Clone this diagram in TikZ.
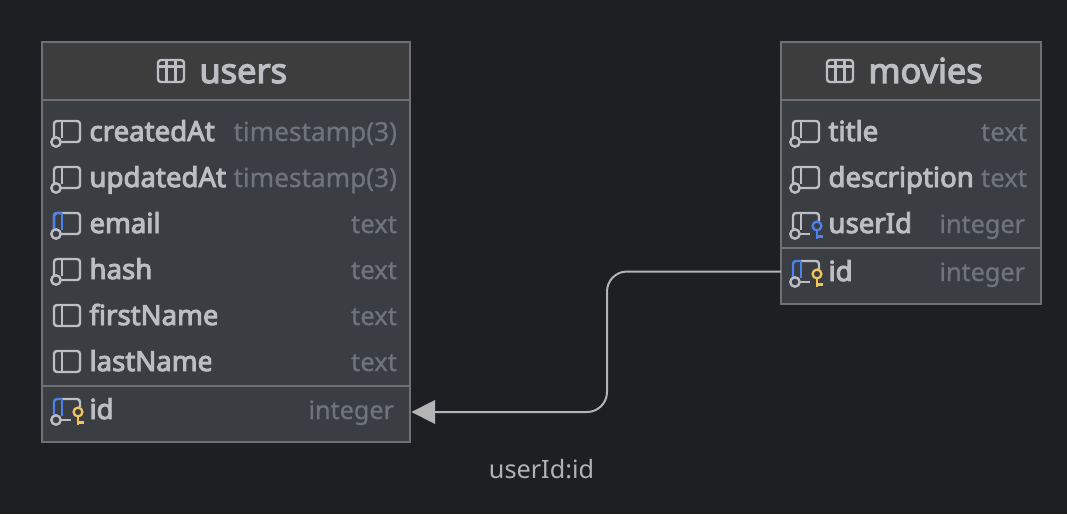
\documentclass[tikz,border=0pt]{standalone}
\usepackage{fontspec}
\setmainfont{Noto Sans}
\newfontfamily\mfont[FakeBold=3.5]{Noto Sans}
\newfontfamily\lfont[FakeBold=0.8]{Noto Sans}
\usetikzlibrary{arrows.meta}
\definecolor{bg}{HTML}{1E1F22}
\definecolor{bodyc}{HTML}{3A3D41}
\definecolor{headc}{HTML}{3D3D3D}
\definecolor{edgec}{HTML}{6F7073}
\definecolor{txt}{HTML}{BCBEC4}
\definecolor{muted}{HTML}{6F737A}
\definecolor{blueic}{HTML}{4C82EE}
\definecolor{goldic}{HTML}{F2C55C}
\definecolor{linec}{HTML}{B4B4B4}
\definecolor{labelc}{HTML}{B0B2B6}
\tikzset{
  x=1pt,y=-1pt,
  tablebox/.style={draw=edgec,line width=1.5pt,fill=bodyc},
  headbox/.style={fill=headc},
  sepline/.style={draw=edgec,line width=2pt},
  icon/.style={draw=txt,line width=2.4pt,line join=round},
  fname/.style={anchor=base west,inner sep=0pt,outer sep=0pt,text=txt,font=\mfont\fontsize{27.6}{28}\selectfont},
  ftype/.style={anchor=base east,inner sep=0pt,outer sep=0pt,text=muted,font=\lfont\fontsize{25.6}{26}\selectfont},
  ftypewide/.style={ftype,font=\lfont\fontsize{26.2}{26}\selectfont},
  ftypeint/.style={ftype,font=\lfont\fontsize{25.2}{26}\selectfont},
  ttl/.style={anchor=base west,inner sep=0pt,outer sep=0pt,text=txt,font=\mfont\fontsize{34.3}{34}\selectfont},
  rel/.style={draw=linec,line width=2pt,rounded corners=20pt},
  pics/tableicon/.style={code={
    \draw[icon,rounded corners=3pt] (0,-11) rectangle (26,11);
    \draw[icon] (0,-4.5)--(26,-4.5) (8.5,-11)--(8.5,11) (17.5,-11)--(17.5,11);
  }},
  pics/plainbase/.style={code={
    \draw[icon,rounded corners=3pt] (54,-11) rectangle (80,10);
    \draw[icon] (62,-11)--(62,10);
  }},
  pics/nullbase/.style={code={
    \draw[icon,rounded corners=3pt] (54,5)--(54,-11)--(80,-11)--(80,10)--(61,10);
    \draw[icon] (62,-11)--(62,6);
    \draw[icon] (56,10) circle (4.7);
  }},
  pics/pkbase/.style={code={
    \draw[icon,rounded corners=3pt] (54,5)--(54,-11)--(80,-11)--(80,10)--(61,10);
    \draw[icon,draw=blueic,rounded corners=3pt] (54,5)--(54,-11)--(62,-11);
    \draw[icon,draw=blueic] (62,-11)--(62,6);
    \draw[icon] (56,10) circle (4.7);
  }},
  pics/keybase/.style={code={
    \draw[icon,rounded corners=3pt] (54,5)--(54,-11)--(80,-11)--(80,-3);
    \draw[icon] (61,10)--(71,10) (62,-11)--(62,6);
    \draw[icon] (56,10) circle (4.7);
  }},
  pics/pkkeybase/.style={code={
    \draw[icon,rounded corners=3pt] (62,-11)--(80,-11)--(80,-3);
    \draw[icon] (61,10)--(71,10);
    \draw[icon,draw=blueic,rounded corners=3pt] (54,5)--(54,-11)--(62,-11);
    \draw[icon,draw=blueic] (62,-11)--(62,6);
    \draw[icon] (56,10) circle (4.7);
  }},
  pics/keyglyph/.style={code={
    \draw[line width=2.3pt,draw=#1] (78,2) circle (4.4);
    \draw[line width=2.5pt,draw=#1] (78,6.5)--(78,15) (78,12.5)--(83.5,12.5);
  }},
}
\begin{document}
\begin{tikzpicture}
\useasboundingbox (0,0) rectangle (1067,514);
\fill[bg] (0,0) rectangle (1067,514);

% users table
\path[tablebox] (42,42) rectangle (410,442);
\path[headbox] (43,43) rectangle (409,100);
\draw[tablebox,fill=none] (42,42) rectangle (410,442);
\draw[sepline] (43,100)--(409,100);
\draw[sepline] (43,386)--(409,386);
\pic at (158,71) {tableicon};
\node[ttl] (usersT) at (199.5,83) {users};

\pic at (0,132) {nullbase};
\node[fname] (u1) at (89.5,141) {createdAt};
\node[ftypewide] (u1t) at (397,141) {timestamp(3)};
\pic at (0,178) {nullbase};
\node[fname] (u2) at (89.5,187) {updatedAt};
\node[ftypewide] (u2t) at (397,187) {timestamp(3)};
\pic at (0,224) {pkbase};
\node[fname] (u3) at (89.5,233) {email};
\node[ftype] (u3t) at (397,233) {text};
\pic at (0,270) {nullbase};
\node[fname] (u4) at (89.5,279) {hash};
\node[ftype] (u4t) at (397,279) {text};
\pic at (0,316) {plainbase};
\begin{scope}
\clip (85,300) rectangle (217,335);
\node[fname] (u5) at (89.5,325) {firstName};
\end{scope}
\node[ftype] (u5t) at (397,325) {text};
\pic at (0,362) {plainbase};
\begin{scope}
\clip (85,345) rectangle (211,380);
\node[fname] (u6) at (89.5,371) {lastName};
\end{scope}
\node[ftype] (u6t) at (397,371) {text};
\pic at (0,410) {pkkeybase};
\pic at (0,410) {keyglyph=goldic};
\node[fname] (u7) at (89.5,419) {id};
\node[ftypeint] (u7t) at (394,419) {integer};

% movies table
\path[tablebox] (781,42) rectangle (1041,304);
\path[headbox] (782,43) rectangle (1040,100);
\draw[tablebox,fill=none] (781,42) rectangle (1041,304);
\draw[sepline] (782,100)--(1040,100);
\draw[sepline] (782,248)--(1040,248);
\pic at (827,71) {tableicon};
\node[ttl] (moviesT) at (868.5,83) {movies};

\pic at (739,132) {nullbase};
\node[fname] (m1) at (828.5,141) {title};
\node[ftype] (m1t) at (1027,141) {text};
\pic at (739,178) {nullbase};
\begin{scope}
\clip (824,160) rectangle (975,197);
\node[fname] (m2) at (828.5,187) {description};
\end{scope}
\node[ftype] (m2t) at (1027,187) {text};
\pic at (739,224) {keybase};
\pic at (739,224) {keyglyph=blueic};
\node[fname] (m3) at (828.5,233) {userId};
\node[ftypeint] (m3t) at (1025,233) {integer};
\pic at (739,272) {pkkeybase};
\pic at (739,272) {keyglyph=goldic};
\node[fname] (m4) at (828.5,281) {id};
\node[ftypeint] (m4t) at (1025,281) {integer};

% relation
\coordinate (relS) at (781,271.5);
\coordinate (relE) at (435,412);
\coordinate (relTip) at (411.5,412);
\draw[rel] (relS) -- (607,271.5) -- (607,412) -- (relE);
\fill[linec] (relTip) -- (435,400) -- (435,424) -- cycle;
\node[anchor=base,inner sep=0pt,text=labelc,font=\fontsize{25.2}{25}\selectfont] (relL) at (541.5,478) {userId:id};
\end{tikzpicture}
\end{document}
